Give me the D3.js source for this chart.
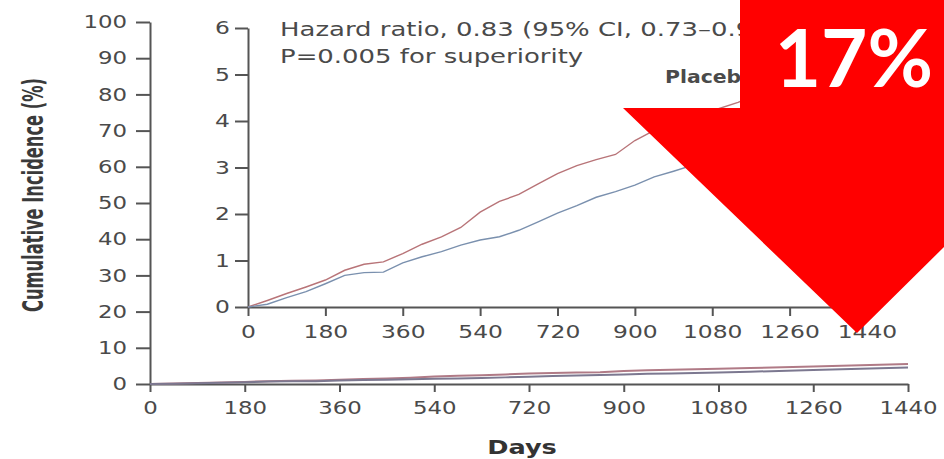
<!DOCTYPE html>
<html>
<head>
<meta charset="utf-8">
<script src="https://cdn.jsdelivr.net/npm/d3@7"></script>
<style>
  body { margin: 0; background: #fff; }
  svg { display: block; }
</style>
</head>
<body>
<svg id="chart" width="944" height="459"></svg>
<script>
// follow-up days, shared by both curves
const days = [0, 45, 90, 135, 180, 225, 270, 315, 360, 405, 450, 495, 540, 585, 630,
    675, 720, 765, 810, 855, 900, 945, 990, 1035, 1080, 1140, 1260, 1350, 1440];

// cumulative incidence (%)
const placebo = [0, 0.14, 0.29, 0.43, 0.58, 0.79, 0.92, 0.97, 1.15, 1.35, 1.51, 1.71, 2.04, 2.27, 2.42,
    2.65, 2.87, 3.04, 3.17, 3.28, 3.58, 3.8, 3.95, 4.1, 4.22, 4.4, 4.85, 5.2, 5.5];
const treatment = [0, 0.06, 0.2, 0.33, 0.5, 0.68, 0.74, 0.75, 0.95, 1.08, 1.19, 1.33, 1.44, 1.51, 1.65,
    1.83, 2.02, 2.18, 2.36, 2.48, 2.62, 2.8, 2.92, 3.05, 3.2, 3.4, 3.85, 4.2, 4.55];

const dayTicks = [0, 180, 360, 540, 720, 900, 1080, 1260, 1440];
const mainYTicks = [0, 10, 20, 30, 40, 50, 60, 70, 80, 90, 100];
const insetYTicks = [0, 1, 2, 3, 4, 5, 6];

const annotation = ["Hazard ratio, 0.83 (95% CI, 0.73\u20130.95)", "P=0.005 for superiority"];
const seriesNames = ["Placebo"];
const reduction = "17%";

let svg;

window.addEventListener("load", function () {
    svg = d3.select("#chart");
    drawChart();
});

// the source picture is squashed sideways, so widen text around its anchor
function stretch(sel, sx) {
    sel.each(function () {
        const t = d3.select(this);
        const x = +t.attr("x") || 0;
        t.attr("transform", "translate(" + x + ",0) scale(" + sx + ",1) translate(" + (-x) + ",0)");
    });
}

function styleAxis(g, size) {
    g.attr("font-family", "DejaVu Sans, Verdana, sans-serif")
        .attr("font-size", size);
    g.select(".domain").attr("stroke", "#555").attr("stroke-width", 2);
    g.selectAll(".tick line").attr("stroke", "#555").attr("stroke-width", 2);
    g.selectAll(".tick text").attr("fill", "#4a4a4a");
}

function drawChart() {
    const rows = days.map((d, i) => ({ day: d, p: placebo[i], t: treatment[i] }));
    const fmt = d3.format("d");

    // ---- main panel ----
    const x = d3.scaleLinear().domain([0, 1440]).range([150, 908]);
    const y = d3.scaleLinear().domain([0, 100]).range([384, 22]);

    const gx = svg.append("g")
        .attr("transform", "translate(0,384)")
        .call(d3.axisBottom(x).tickValues(dayTicks).tickFormat(fmt)
            .tickSize(8).tickPadding(9.5).tickSizeOuter(0));
    styleAxis(gx, 18);
    stretch(gx.selectAll(".tick text"), 1.27);

    const gy = svg.append("g")
        .attr("transform", "translate(150,0)")
        .call(d3.axisLeft(y).tickValues(mainYTicks).tickFormat(fmt)
            .tickSize(14).tickPadding(9).tickSizeOuter(0));
    styleAxis(gy, 18);
    stretch(gy.selectAll(".tick text"), 1.27);

    const mainLine = (key) => d3.line().x(d => x(d.day)).y(d => y(d[key]));
    svg.append("path").datum(rows)
        .attr("fill", "none").attr("stroke", "#b07a86").attr("stroke-width", 2)
        .attr("d", mainLine("p"));
    svg.append("path").datum(rows)
        .attr("fill", "none").attr("stroke", "#7c7890").attr("stroke-width", 2)
        .attr("d", mainLine("t"));

    svg.append("text")
        .attr("x", 0).attr("y", 0)
        .attr("transform", "translate(43,195) rotate(-90) scale(1,1.3)")
        .attr("text-anchor", "middle")
        .attr("font-family", "DejaVu Sans Condensed, DejaVu Sans, sans-serif")
        .attr("font-weight", "bold")
        .attr("font-size", 22)
        .attr("fill", "#3a3a3a")
        .attr("textLength", 234)
        .attr("lengthAdjust", "spacingAndGlyphs")
        .text("Cumulative Incidence (%)");

    svg.append("text")
        .attr("x", 522).attr("y", 454)
        .attr("text-anchor", "middle")
        .attr("font-family", "DejaVu Sans, sans-serif")
        .attr("font-weight", "bold")
        .attr("font-size", 20)
        .attr("fill", "#333")
        .text("Days")
        .call(stretch, 1.28);

    // ---- inset ----
    const xi = d3.scaleLinear().domain([0, 1440]).range([248, 867]);
    const yi = d3.scaleLinear().domain([0, 6]).range([307, 28]);

    const gxi = svg.append("g")
        .attr("transform", "translate(0,307)")
        .call(d3.axisBottom(xi).tickValues(dayTicks).tickFormat(fmt)
            .tickSize(9).tickPadding(9.5).tickSizeOuter(0));
    styleAxis(gxi, 18);
    stretch(gxi.selectAll(".tick text"), 1.3);

    const gyi = svg.append("g")
        .attr("transform", "translate(248,0)")
        .call(d3.axisLeft(yi).tickValues(insetYTicks).tickFormat(fmt)
            .tickSize(13).tickPadding(5).tickSizeOuter(0));
    styleAxis(gyi, 18);
    stretch(gyi.selectAll(".tick text"), 1.3);

    const insetLine = (key) => d3.line().x(d => xi(d.day)).y(d => yi(d[key]));
    svg.append("path").datum(rows)
        .attr("fill", "none").attr("stroke", "#b87478").attr("stroke-width", 1.4)
        .attr("d", insetLine("p"));
    svg.append("path").datum(rows)
        .attr("fill", "none").attr("stroke", "#7a90ae").attr("stroke-width", 1.4)
        .attr("d", insetLine("t"));

    const note = svg.append("g")
        .attr("font-family", "DejaVu Sans, Verdana, sans-serif")
        .attr("font-size", 19.5)
        .attr("fill", "#4a4a4a");
    note.selectAll("text").data(annotation).join("text")
        .attr("x", 280)
        .attr("y", (d, i) => 36 + i * 27)
        .text(d => d)
        .call(stretch, 1.33);

    svg.append("text")
        .attr("x", 665).attr("y", 83)
        .attr("font-family", "DejaVu Sans, Verdana, sans-serif")
        .attr("font-weight", "bold")
        .attr("font-size", 17)
        .attr("fill", "#4a4a4a")
        .text(seriesNames[0])
        .call(stretch, 1.2);

    // ---- red arrow overlay ----
    svg.append("path")
        .attr("d", "M740,0 L944,0 L944,247 L857,333 L623,108 L740,108 Z")
        .attr("fill", "#ff0000");

    svg.append("text")
        .attr("x", 933).attr("y", 87)
        .attr("text-anchor", "end")
        .attr("font-family", "Lato, Noto Sans, sans-serif")
        .attr("font-weight", "bold")
        .attr("font-size", 80)
        .attr("fill", "#fff")
        .text(reduction);
}
</script>
</body>
</html>
